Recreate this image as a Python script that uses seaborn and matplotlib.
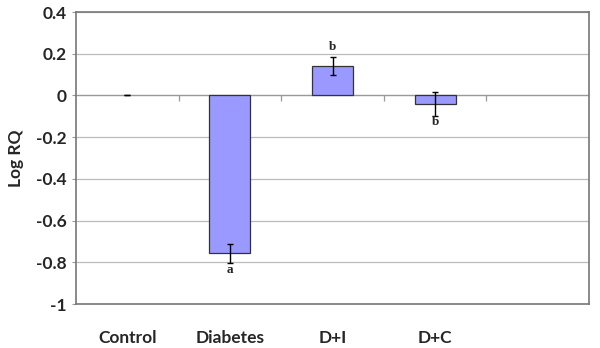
import matplotlib
matplotlib.use("Agg")
import matplotlib.pyplot as plt
import seaborn as sns
import pandas as pd
import numpy as np

categories = ["Control", "Diabetes", "D+I", "D+C"]
order = ["Control", "Diabetes", "D+I", "D+C", " "]
log_rq = [0.0, -0.757, 0.141, -0.042]
err = [0.0, 0.045, 0.043, 0.058]
letters = ["", "a", "b", "b"]
letter_y = [None, -0.835, 0.23, -0.125]
yticks = [0.4, 0.2, 0, -0.2, -0.4, -0.6, -0.8, -1]

sns.set_style("white")
plt.rcParams["font.family"] = ["Lato", "DejaVu Sans"]

df = pd.DataFrame({"group": categories, "value": log_rq})

fig = plt.figure(figsize=(6, 3.48), dpi=100)
ax = fig.add_axes([0.1267, 0.1264, 0.855, 0.8391])

sns.barplot(data=df, x="group", y="value", order=order, color="#9999FF",
            saturation=1, width=0.4, edgecolor="#333333", linewidth=0.9,
            errorbar=None, ax=ax, zorder=3)
for p in ax.patches:
    if abs(p.get_height()) < 1e-9:
        p.set_linewidth(0)

xs = np.arange(len(categories))
ax.errorbar(xs, log_rq, yerr=err, fmt="none", ecolor="black", elinewidth=1,
            capsize=2.5, capthick=1, zorder=4)

for x, t, y in zip(xs, letters, letter_y):
    if t:
        ax.text(x, y, t, ha="center", va="center", fontsize=9.5, fontweight="bold",
                family=["Liberation Serif", "DejaVu Serif"], zorder=5)

ax.set_ylim(-1, 0.4)
ax.set_xlim(-0.5, len(order) - 0.5)
ax.set_yticks(yticks)
ax.set_yticklabels([f"{v:g}" for v in yticks])
ax.yaxis.grid(True, color="#BBBBBB", linewidth=0.9, zorder=0)
ax.set_axisbelow(True)
ax.axhline(0, color="#999999", linewidth=0.9, zorder=2)
ax.vlines(np.arange(len(order) - 1) + 0.5, -0.025, 0, color="#999999",
          linewidth=0.9, zorder=2)

for s in ax.spines.values():
    s.set_color("#777777")
    s.set_linewidth(1.2)
    s.set_visible(True)

ax.tick_params(axis="y", which="both", left=True, length=3, color="#999999",
               labelsize=12.5, pad=4)
ax.tick_params(axis="x", bottom=False, labelsize=12.5, pad=15)
for lab in ax.get_yticklabels() + ax.get_xticklabels():
    lab.set_fontweight("bold")

ax.set_xlabel("")
ax.set_ylabel("Log RQ", fontsize=12.5, fontweight="bold", labelpad=8)

fig.savefig("out.png", dpi=100)
